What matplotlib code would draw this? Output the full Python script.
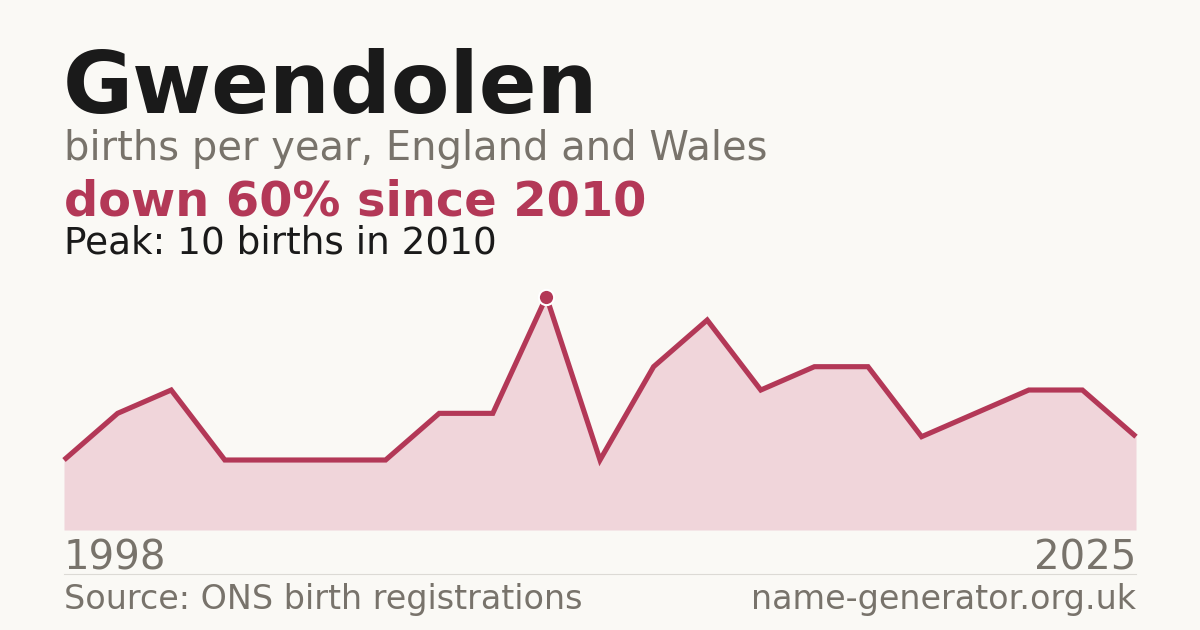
import matplotlib
matplotlib.use("Agg")
import matplotlib.pyplot as plt

# births per year (plotted points, first label 1998, last 2025)
births = [3, 5, 6, 3, 3, 3, 3, 5, 5, 10, 3, 7, 9, 6, 7, 7, 4, 5, 6, 6, 4]
first_year = "1998"
last_year = "2025"
peak_index = 9

name = "Gwendolen"
subtitle = "births per year, England and Wales"
headline = "down 60% since 2010"
peak_note = "Peak: 10 births in 2010"
source = "Source: ONS birth registrations"
site = "name-generator.org.uk"

BG = "#faf9f5"
ACCENT = "#b33857"
FILL = "#f0d5da"
GREY = "#78736b"
DARK = "#1a1a1a"

W, H = 1200, 630
fig = plt.figure(figsize=(W / 100, H / 100), dpi=100)
fig.patch.set_facecolor(BG)


def fy(px):
    return (H - px) / H


def fx(px):
    return px / W


ax = fig.add_axes([fx(64), fy(530), fx(1136) - fx(64), (530 - 296.7) / H])
ax.set_facecolor(BG)
xs = list(range(len(births)))
ax.fill_between(xs, births, 0, color=FILL, linewidth=0)
ax.plot(xs, births, color=ACCENT, linewidth=3.7, solid_joinstyle="miter",
        solid_capstyle="butt", clip_on=False)
ax.plot([xs[peak_index]], [births[peak_index]], "o", color=ACCENT,
        markersize=11, markeredgecolor="white", markeredgewidth=1.5,
        clip_on=False, zorder=5)
ax.set_xlim(0, len(births) - 1)
ax.set_ylim(0, 10)
ax.axis("off")

# header
fig.text(fx(63), fy(113), name, fontsize=61.6, fontweight="bold", color=DARK,
         va="baseline", ha="left")
fig.text(fx(64), fy(160), subtitle, fontsize=28.8, color=GREY,
         va="baseline", ha="left")
fig.text(fx(64), fy(215), headline, fontsize=34.5, fontweight="bold",
         color=ACCENT, va="baseline", ha="left")
fig.text(fx(64), fy(254), peak_note, fontsize=26.9, color=DARK,
         va="baseline", ha="left")

# footer
fig.text(fx(64), fy(569), first_year, fontsize=29, color=GREY,
         va="baseline", ha="left")
fig.text(fx(1136), fy(569), last_year, fontsize=29, color=GREY,
         va="baseline", ha="right")
fig.add_artist(plt.Line2D([fx(64), fx(1136)], [fy(574), fy(574)],
                          transform=fig.transFigure, color="#dcdad5",
                          linewidth=0.8))
fig.text(fx(64), fy(609), source, fontsize=24, color=GREY,
         va="baseline", ha="left")
fig.text(fx(1136), fy(609), site, fontsize=24, color=GREY,
         va="baseline", ha="right")

fig.savefig("out.png", dpi=100, facecolor=BG)
